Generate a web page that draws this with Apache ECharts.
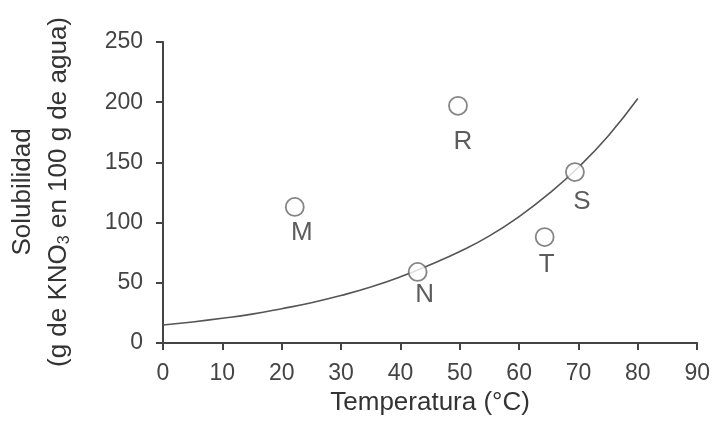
<!DOCTYPE html>
<html>
<head>
<meta charset="utf-8">
<script src="https://cdn.jsdelivr.net/npm/echarts@6/dist/echarts.min.js"></script>
<style>
  html, body { margin: 0; padding: 0; background: #fff; }
  #chart { width: 713px; height: 423px; }
</style>
</head>
<body>
<div id="chart"></div>
<script>
// Solubility curve of KNO3
var curveTemps = [0, 5, 10, 15, 20, 25, 30, 35, 40, 45, 50, 55, 60, 65, 70, 75, 80];
var curveSolubility = [15, 17.5, 20.5, 24, 28.5, 33.5, 39.5, 46.5, 55, 65, 76, 89, 105, 124, 146, 172, 203];

// Labelled points
var pointNames = ['M', 'N', 'R', 'S', 'T'];
var pointTemps = [22.2, 42.9, 49.7, 69.4, 64.3];
var pointSolubility = [113, 59, 197, 142, 88];

// Axis ticks
var xTicks = [0, 10, 20, 30, 40, 50, 60, 70, 80, 90];
var yTicks = [0, 50, 100, 150, 200, 250];

var labelOffsets = { M: [7, 26], N: [7, 23], R: [5, 36], S: [7, 30], T: [2, 28] };

var chart = echarts.init(document.getElementById('chart'));
var FONT = 'Liberation Sans, Arial, sans-serif';

var pointData = pointNames.map(function (n, i) {
  return {
    name: n,
    value: [pointTemps[i], pointSolubility[i]],
    label: { offset: labelOffsets[n] }
  };
});

chart.setOption({
  animation: false,
  backgroundColor: '#fff',
  grid: { left: 163, right: 15, top: 42, bottom: 80 },
  xAxis: {
    type: 'value',
    min: xTicks[0], max: xTicks[xTicks.length - 1], interval: 10,
    name: 'Temperatura (°C)',
    nameLocation: 'middle',
    nameGap: 45,
    nameTextStyle: { fontFamily: FONT, fontSize: 26, color: '#333' },
    axisLine: { show: true, onZero: false, lineStyle: { color: '#444', width: 2 } },
    axisTick: { show: true, length: 7, lineStyle: { color: '#444', width: 2 } },
    axisLabel: { fontFamily: FONT, fontSize: 23, color: '#444', margin: 19 },
    splitLine: { show: false }
  },
  yAxis: {
    type: 'value',
    min: yTicks[0], max: yTicks[yTicks.length - 1], interval: 50,
    axisLine: { show: true, onZero: false, lineStyle: { color: '#444', width: 2 } },
    axisTick: { show: true, length: 7, lineStyle: { color: '#444', width: 2 } },
    axisLabel: { fontFamily: FONT, fontSize: 23, color: '#444', margin: 20 },
    splitLine: { show: false }
  },
  graphic: [
    {
      type: 'text',
      x: 23, y: 192,
      rotation: Math.PI / 2,
      style: {
        text: 'Solubilidad',
        fontFamily: FONT, fontSize: 26, fill: '#333',
        align: 'center', verticalAlign: 'middle'
      }
    },
    {
      type: 'text',
      x: 59, y: 192,
      rotation: Math.PI / 2,
      style: {
        text: '(g de KNO{sub|3} en 100 g de agua)',
        rich: {
          sub: { fontFamily: FONT, fontSize: 16, fill: '#333', verticalAlign: 'bottom', padding: [11, 0, 0, 0] }
        },
        fontFamily: FONT, fontSize: 26, fill: '#333',
        align: 'center', verticalAlign: 'middle'
      }
    }
  ],
  series: [
    {
      type: 'line',
      data: curveTemps.map(function (t, i) { return [t, curveSolubility[i]]; }),
      smooth: true,
      showSymbol: false,
      lineStyle: { color: '#555', width: 1.6 },
      z: 2
    },
    {
      type: 'scatter',
      data: pointData,
      symbol: 'circle',
      symbolSize: 18,
      itemStyle: { color: '#fff', borderColor: '#666', borderWidth: 1.8 },
      label: {
        show: true,
        position: 'inside',
        formatter: '{b}',
        fontFamily: FONT, fontSize: 26, color: '#333'
      },
      z: 3
    }
  ]
});
</script>
</body>
</html>
